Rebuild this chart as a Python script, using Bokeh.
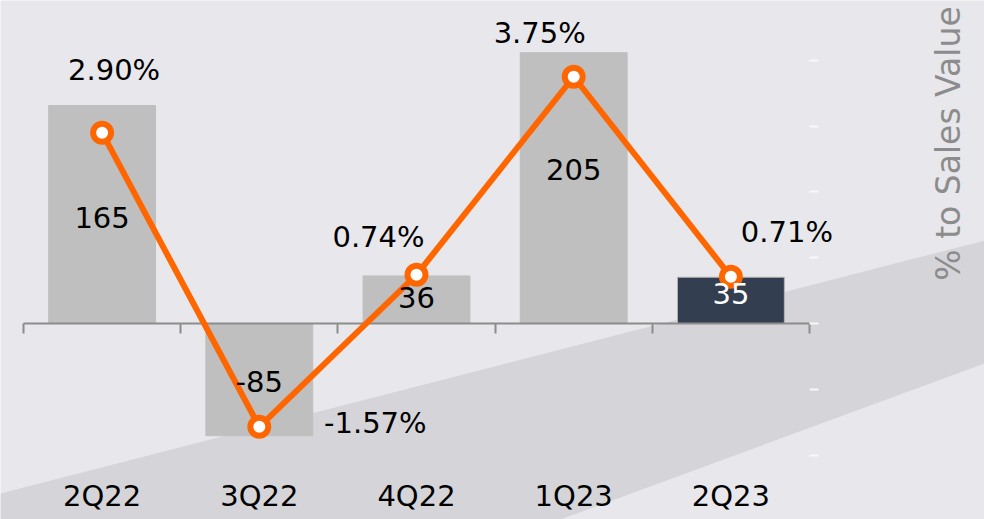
import math
from bokeh.plotting import figure
from bokeh.models import ColumnDataSource, Range1d, LinearAxis, FixedTicker, Label, PolyAnnotation
from bokeh.embed import file_html
from bokeh.resources import INLINE
from bokeh.core.properties import value

# ---- data ----
categories = ["2Q22", "3Q22", "4Q22", "1Q23", "2Q23"]
amounts = [165, -85, 36, 205, 35]
amount_labels = ["165", "-85", "36", "205", "35"]
pct_to_sales = [2.90, -1.57, 0.74, 3.75, 0.71]
pct_labels = ["2.90%", "-1.57%", "0.74%", "3.75%", "0.71%"]
pct_ticks = [-2, -1, 0, 1, 2, 3, 4]

# ---- styles ----
bar_colors = ["#bfbfbf", "#bfbfbf", "#bfbfbf", "#bfbfbf", "#333e50"]
bar_lines = ["#bfbfbf", "#bfbfbf", "#bfbfbf", "#bfbfbf", "#b4b4b4"]
amount_text_colors = ["#000000", "#000000", "#000000", "#000000", "#ffffff"]
amount_dy = [3, 2, -2, -19, -7]
pct_dx = [12, 116, -38, -34, 56]
pct_dy = [-63, -4, -38, -44, -45]
FONT = "DejaVu Sans"
FS = "29px"

n = len(categories)
centers = [i + 0.5 for i in range(n)]
boundaries = [i for i in range(n + 1)]

src = ColumnDataSource(dict(
    x=centers, amt=amounts, half=[a / 2 for a in amounts], amt_lab=amount_labels,
    pct=pct_to_sales, pct_lab=pct_labels, color=bar_colors, lcolor=bar_lines,
    tcolor=amount_text_colors, ady=amount_dy, pdx=pct_dx, pdy=pct_dy,
))
axis_src = ColumnDataSource(dict(x0=[boundaries[0]], x1=[boundaries[-1]], y=[0]))

W, H = 984, 519
# frame fills the whole canvas; ranges chosen so the plot area sits like the original
p = figure(width=W, height=H, output_backend="svg", toolbar_location=None,
           x_range=Range1d(-0.1463, 6.1132), y_range=Range1d(-148.4, 244.5),
           x_axis_location=None, y_axis_location=None,
           min_border_left=0, min_border_right=0, min_border_top=0, min_border_bottom=0)
p.extra_y_ranges = {"pct": Range1d(-2.979, 4.909)}
p.background_fill_color = "#e8e8ec"
p.border_fill_color = "#e8e8ec"
p.outline_line_color = None
p.xgrid.visible = False
p.ygrid.visible = False

# darker diagonal band of the backdrop
band = PolyAnnotation(xs=[0, 0, 560, W, W], ys=[H, 493, H, 363, 240],
                      xs_units="canvas", ys_units="canvas",
                      fill_color="#d5d5d9", fill_alpha=1.0, line_color=None, level="underlay")
band.xs = [0, W, W, 560, 0]
band.ys = [493, 240, 363, H, H]
p.add_layout(band)

# bars
p.vbar(x="x", top="amt", bottom=0, width=0.68, fill_color="color", line_color="lcolor",
       line_width=1, source=src)

# zero line across the categories
p.segment(x0="x0", x1="x1", y0="y", y1="y", line_color="#8c8c8c", line_width=2, source=axis_src)

# boundary ticks under the zero line
zero_axis = LinearAxis(fixed_location=0, ticker=FixedTicker(ticks=boundaries))
zero_axis.axis_line_color = None
zero_axis.major_tick_line_color = "#8c8c8c"
zero_axis.major_tick_line_width = 2
zero_axis.major_tick_in = 0
zero_axis.major_tick_out = 10
zero_axis.minor_tick_line_color = None
zero_axis.major_label_text_font_size = "0px"
zero_axis.major_label_text_color = None
p.add_layout(zero_axis, "below")

# category labels
cat_axis = LinearAxis(fixed_location=0, ticker=FixedTicker(ticks=centers),
                      major_label_overrides={c: lab for c, lab in zip(centers, categories)})
cat_axis.axis_line_color = None
cat_axis.major_tick_line_color = None
cat_axis.major_tick_in = 0
cat_axis.major_tick_out = 0
cat_axis.minor_tick_line_color = None
cat_axis.major_label_text_font = FONT
cat_axis.major_label_text_font_size = FS
cat_axis.major_label_text_color = "#000000"
cat_axis.major_label_standoff = 156
p.add_layout(cat_axis, "below")

# right percentage axis (ticks only)
r_axis = LinearAxis(y_range_name="pct", fixed_location=boundaries[-1],
                    ticker=FixedTicker(ticks=pct_ticks))
r_axis.axis_line_color = None
r_axis.major_tick_line_color = "#f8f8f8"
r_axis.major_tick_line_width = 2
r_axis.major_tick_in = 0
r_axis.major_tick_out = 9
r_axis.minor_tick_line_color = None
r_axis.major_label_text_font_size = "0px"
r_axis.major_label_text_color = None
p.add_layout(r_axis, "right")

# right axis title
title = Label(x=948, y=H - 143, x_units="screen", y_units="screen", text="% to Sales Value",
              angle=math.pi / 2, text_font=FONT, text_font_size="33px", text_color="#8c8c8c",
              text_align="center", text_baseline="middle")
p.add_layout(title)

# line + markers
p.line(x="x", y="pct", y_range_name="pct", line_color="#ff6600", line_width=6, source=src)
p.scatter(x="x", y="pct", y_range_name="pct", size=18, fill_color="#ffffff",
          line_color="#ff6600", line_width=6, source=src)

# amount labels
p.text(x="x", y="half", text="amt_lab", y_offset="ady", text_color="tcolor",
       text_font=value(FONT), text_font_size=FS, text_align="center",
       text_baseline="middle", source=src)

# percent labels
p.text(x="x", y="pct", y_range_name="pct", text="pct_lab", x_offset="pdx", y_offset="pdy",
       text_color="#000000", text_font=value(FONT), text_font_size=FS,
       text_align="center", text_baseline="middle", source=src)

open("out.html", "w").write(file_html(p, INLINE))
